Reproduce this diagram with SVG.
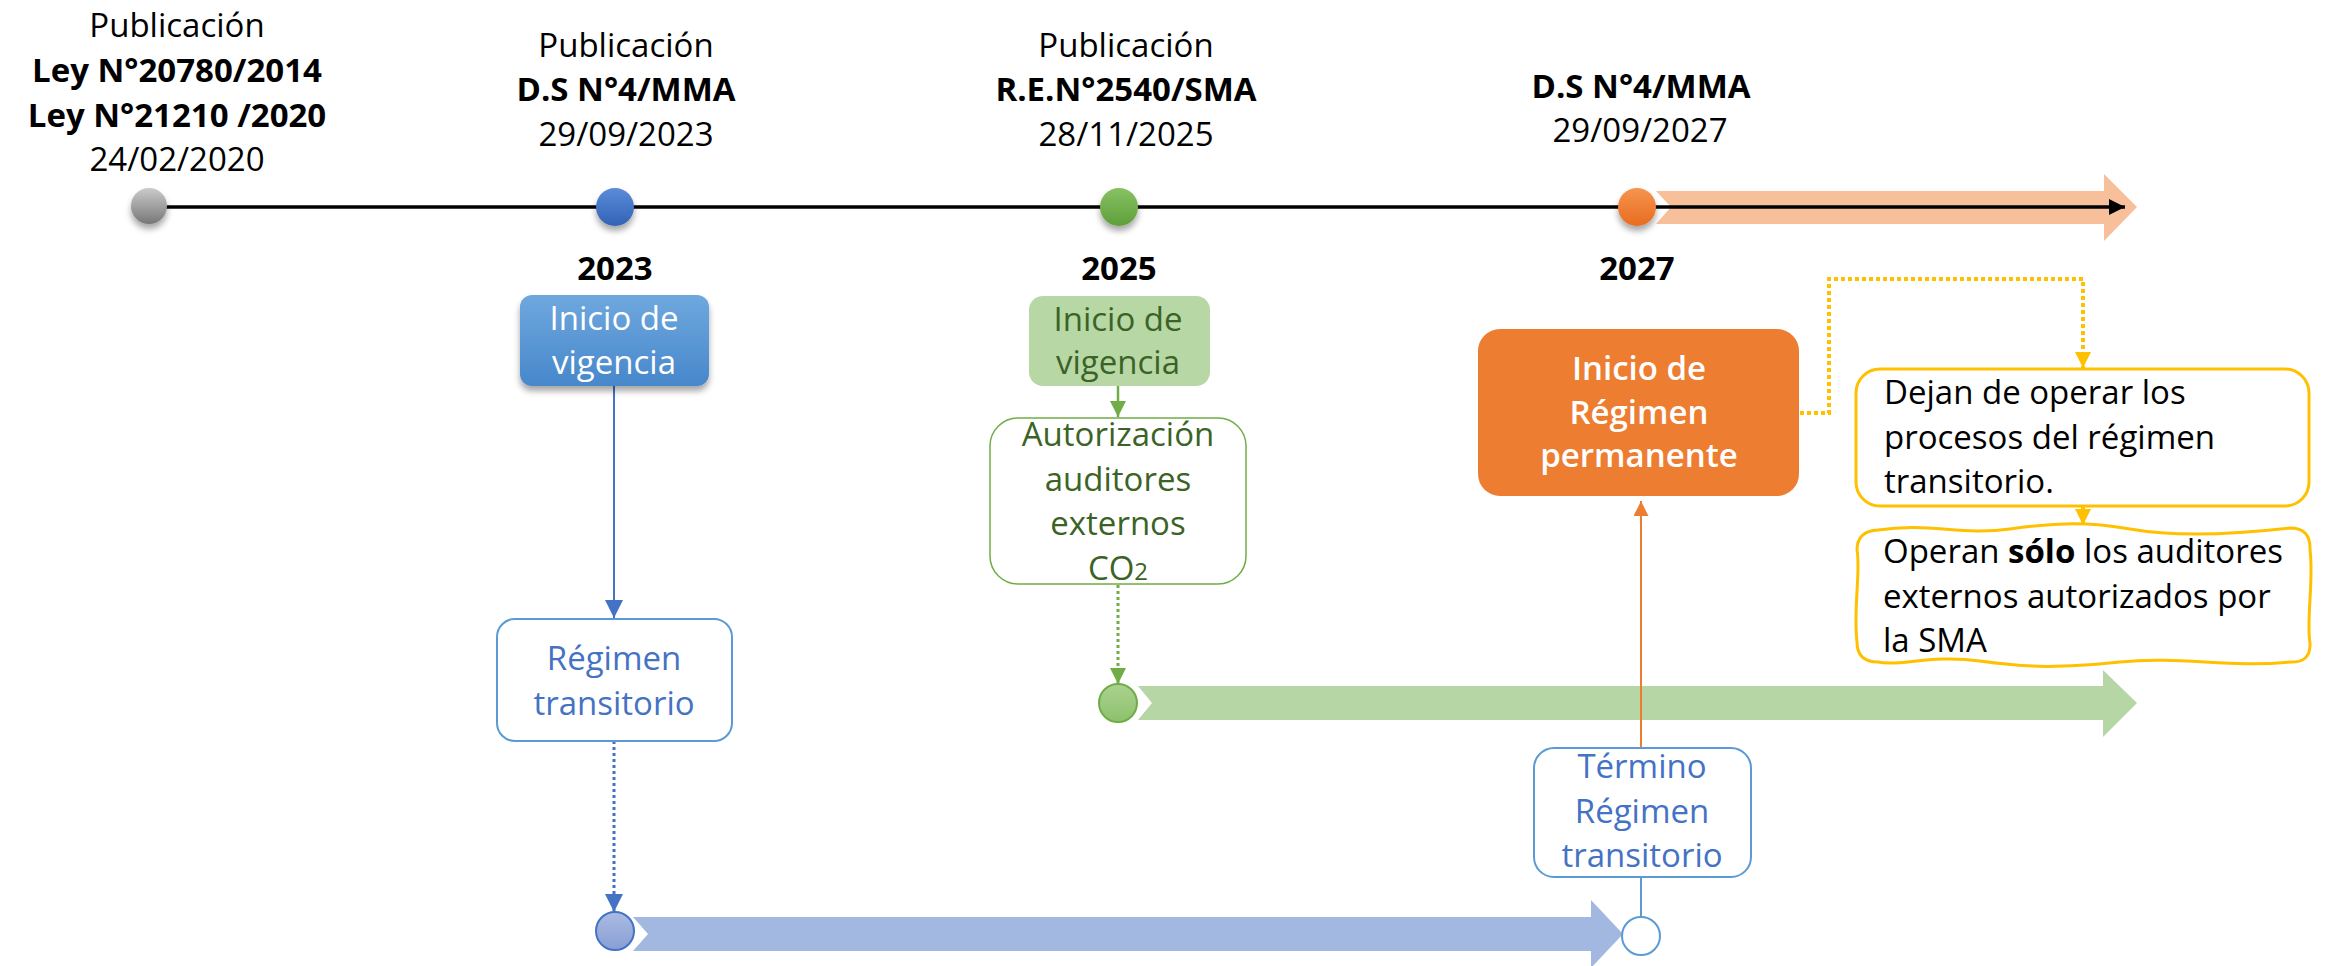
<svg xmlns="http://www.w3.org/2000/svg" width="2331" height="966" viewBox="0 0 2331 966">
<defs>
<style>
text{font-family:"Open Sans","Liberation Sans",sans-serif;font-size:33px;fill:#000;}
.c{text-anchor:middle;}
.b{font-weight:700;}
.w{fill:#fff;}
.bl{fill:#4472c4;}
.dg{fill:#3b6326;}
.sb{font-weight:600;}
</style>
<linearGradient id="gGray" x1="0" y1="0" x2="0" y2="1"><stop offset="0" stop-color="#cbcbcb"/><stop offset="1" stop-color="#777"/></linearGradient>
<linearGradient id="gBlue" x1="0" y1="0" x2="0" y2="1"><stop offset="0" stop-color="#5b8bd9"/><stop offset="1" stop-color="#3362b6"/></linearGradient>
<linearGradient id="gGreen" x1="0" y1="0" x2="0" y2="1"><stop offset="0" stop-color="#88c164"/><stop offset="1" stop-color="#5e9f39"/></linearGradient>
<linearGradient id="gOrange" x1="0" y1="0" x2="0" y2="1"><stop offset="0" stop-color="#f6944f"/><stop offset="1" stop-color="#e86c1e"/></linearGradient>
<linearGradient id="gBox" x1="0" y1="0" x2="0" y2="1"><stop offset="0" stop-color="#6fa8de"/><stop offset="1" stop-color="#4787cb"/></linearGradient>
<linearGradient id="gSmB" x1="0" y1="0" x2="0" y2="1"><stop offset="0" stop-color="#abbbe2"/><stop offset="1" stop-color="#889ed4"/></linearGradient>
<linearGradient id="gSmG" x1="0" y1="0" x2="0" y2="1"><stop offset="0" stop-color="#abd28f"/><stop offset="1" stop-color="#8cc16d"/></linearGradient>
<filter id="sh" x="-30%" y="-30%" width="160%" height="180%"><feDropShadow dx="0" dy="5" stdDeviation="3" flood-color="#000" flood-opacity="0.35"/></filter>
<marker id="mBlue" markerUnits="userSpaceOnUse" markerWidth="18" markerHeight="18" viewBox="0 0 16 16" refX="16" refY="8" orient="auto"><path d="M0,0 L16,8 L0,16 Z" fill="#4472c4"/></marker>
<marker id="mGreen" markerUnits="userSpaceOnUse" markerWidth="16" markerHeight="16" viewBox="0 0 16 16" refX="16" refY="8" orient="auto"><path d="M0,0 L16,8 L0,16 Z" fill="#70ad47"/></marker>
<marker id="mOrange" markerUnits="userSpaceOnUse" markerWidth="15" markerHeight="15" viewBox="0 0 16 16" refX="16" refY="8" orient="auto"><path d="M0,0 L16,8 L0,16 Z" fill="#ed7d31"/></marker>
<marker id="mYellow" markerUnits="userSpaceOnUse" markerWidth="16" markerHeight="16" viewBox="0 0 16 16" refX="16" refY="8" orient="auto"><path d="M0,0 L16,8 L0,16 Z" fill="#ffc000"/></marker>
<marker id="mBlack" markerUnits="userSpaceOnUse" markerWidth="16" markerHeight="16" viewBox="0 0 16 16" refX="16" refY="8" orient="auto"><path d="M0,0 L16,8 L0,16 Z" fill="#000"/></marker>
</defs>
<rect width="2331" height="966" fill="#fff"/>

<!-- bands -->
<g id="bands">
<polygon id="band-orange" points="1656,191 2104,191 2104,174 2137,207 2104,241 2104,224 1656,224 1671,207" fill="#f7bf9a"/>
<polygon id="band-green" points="1138,686 2103,686 2103,670 2137,703 2103,737 2103,720 1138,720 1152,703" fill="#b7d6a6"/>
<polygon id="band-blue" points="633,917 1591,917 1591,900 1623,934 1591,968 1591,951 633,951 648,934" fill="#a3b8e0"/>
</g>

<!-- connectors -->
<g id="connectors" fill="none">
<line x1="160" y1="207" x2="2125" y2="207" stroke="#000" stroke-width="3.5" marker-end="url(#mBlack)"/>
<line x1="614" y1="386" x2="614" y2="618" stroke="#4472c4" stroke-width="2" marker-end="url(#mBlue)"/>
<line x1="614" y1="741" x2="614" y2="912" stroke="#4472c4" stroke-width="3" stroke-dasharray="3 3" marker-end="url(#mBlue)"/>
<line x1="1118" y1="386" x2="1118" y2="417" stroke="#70ad47" stroke-width="2.5" marker-end="url(#mGreen)"/>
<line x1="1118" y1="585" x2="1118" y2="684" stroke="#70ad47" stroke-width="3" stroke-dasharray="3 3" marker-end="url(#mGreen)"/>
<line x1="1641" y1="748" x2="1641" y2="501" stroke="#ed7d31" stroke-width="2" marker-end="url(#mOrange)"/>
<line x1="1641" y1="877" x2="1641" y2="917" stroke="#5b9bd5" stroke-width="2"/>
<polyline points="1800,413 1829,413 1829,279 2083,279 2083,368" stroke="#ffc000" stroke-width="4" stroke-dasharray="4 3" marker-end="url(#mYellow)"/>
<line x1="2083" y1="507" x2="2083" y2="525" stroke="#ffc000" stroke-width="4" stroke-dasharray="4 3" marker-end="url(#mYellow)"/>
</g>

<!-- timeline milestones -->
<g id="m2020">
<circle cx="149" cy="206" r="18" fill="url(#gGray)" filter="url(#sh)"/>
<text class="c" x="177" y="37">Publicación</text>
<text class="c b" x="177" y="82">Ley N°20780/2014</text>
<text class="c b" x="177" y="127">Ley N°21210 /2020</text>
<text class="c" x="177" y="171">24/02/2020</text>
</g>
<g id="m2023">
<circle cx="615" cy="207" r="19" fill="url(#gBlue)" filter="url(#sh)"/>
<text class="c" x="626" y="57">Publicación</text>
<text class="c b" x="626" y="101">D.S N°4/MMA</text>
<text class="c" x="626" y="146">29/09/2023</text>
<text class="c b" x="615" y="280">2023</text>
</g>
<g id="m2025">
<circle cx="1119" cy="207" r="19" fill="url(#gGreen)" filter="url(#sh)"/>
<text class="c" x="1126" y="57">Publicación</text>
<text class="c b" x="1126" y="101">R.E.N°2540/SMA</text>
<text class="c" x="1126" y="146">28/11/2025</text>
<text class="c b" x="1119" y="280">2025</text>
</g>
<g id="m2027">
<circle cx="1637" cy="207" r="19" fill="url(#gOrange)" filter="url(#sh)"/>
<text class="c b" x="1641" y="98">D.S N°4/MMA</text>
<text class="c" x="1640" y="142">29/09/2027</text>
<text class="c b" x="1637" y="280">2027</text>
</g>

<!-- nodes -->
<g id="vigencia-2023">
<rect x="520" y="295" width="189" height="91" rx="12" fill="url(#gBox)" filter="url(#sh)"/>
<text class="c w" x="614" y="330">Inicio de</text>
<text class="c w" x="614" y="374">vigencia</text>
</g>
<g id="regimen-transitorio">
<rect x="497" y="619" width="235" height="122" rx="18" fill="#fff" stroke="#5b9bd5" stroke-width="2"/>
<text class="c bl" x="614" y="670">Régimen</text>
<text class="c bl" x="614" y="715">transitorio</text>
</g>
<g id="dot-blue">
<circle cx="615" cy="931" r="19" fill="url(#gSmB)" stroke="#4472c4" stroke-width="2"/>
</g>
<g id="vigencia-2025">
<rect x="1029" y="296" width="181" height="90" rx="14" fill="#b7d7a5"/>
<text class="c dg" x="1118" y="331">Inicio de</text>
<text class="c dg" x="1118" y="374">vigencia</text>
</g>
<g id="autorizacion">
<rect x="990" y="418" width="256" height="166" rx="28" fill="#fff" stroke="#70ad47" stroke-width="1.5"/>
<text class="c dg" x="1118" y="446">Autorización</text>
<text class="c dg" x="1118" y="491">auditores</text>
<text class="c dg" x="1118" y="535">externos</text>
<text class="c dg" x="1118" y="580">CO<tspan font-size="24">2</tspan></text>
</g>
<g id="dot-green">
<circle cx="1118" cy="703" r="19" fill="url(#gSmG)" stroke="#70ad47" stroke-width="2"/>
</g>
<g id="regimen-permanente">
<rect x="1478" y="329" width="321" height="167" rx="22" fill="#ed7d31"/>
<text class="c w sb" x="1639" y="380">Inicio de</text>
<text class="c w sb" x="1639" y="424">Régimen</text>
<text class="c w sb" x="1639" y="467">permanente</text>
</g>
<g id="termino">
<rect x="1534" y="748" width="217" height="129" rx="20" fill="#fff" stroke="#5b9bd5" stroke-width="2"/>
<text class="c bl" x="1642" y="778">Término</text>
<text class="c bl" x="1642" y="823">Régimen</text>
<text class="c bl" x="1642" y="867">transitorio</text>
</g>
<g id="dot-end">
<circle cx="1641" cy="936" r="19" fill="#fff" stroke="#5b9bd5" stroke-width="2"/>
</g>
<g id="dejan">
<rect x="1856" y="369" width="453" height="137" rx="24" fill="#fff" stroke="#ffc000" stroke-width="3"/>
<text x="1884" y="404">Dejan de operar los</text>
<text x="1884" y="449">procesos del régimen</text>
<text x="1884" y="493">transitorio.</text>
</g>
<g id="operan">
<path d="M1878,530 C1930,522 1960,536 2010,529 S2090,522 2130,529 S2220,536 2290,528 Q2311,528 2310,550 C2314,580 2306,620 2310,643 Q2311,663 2290,662 C2230,668 2180,656 2120,662 S2030,668 1980,661 S1900,667 1878,662 Q1857,662 1857,642 C1853,610 1861,570 1857,550 Q1857,531 1878,530 Z" fill="#fff" stroke="#ffc000" stroke-width="3"/>
<text x="1883" y="563">Operan <tspan class="b">sólo</tspan> los auditores</text>
<text x="1883" y="608">externos autorizados por</text>
<text x="1883" y="652">la SMA</text>
</g>
</svg>
